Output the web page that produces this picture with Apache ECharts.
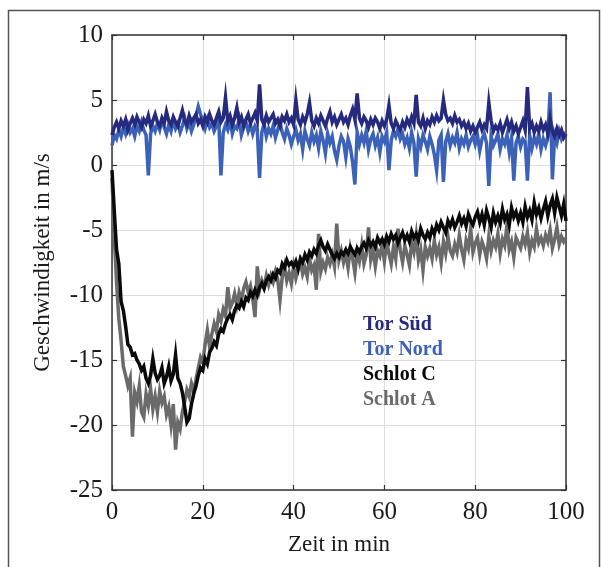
<!DOCTYPE html>
<html>
<head>
<meta charset="utf-8">
<script src="https://cdn.jsdelivr.net/npm/echarts@6/dist/echarts.min.js"></script>
<style>html,body{margin:0;padding:0;background:#fff;}#c{width:603px;height:567px;}</style>
</head>
<body>
<div id="c"></div>
<script>
// time axis: 0 .. 100 min, step 0.5
const timeStart = 0, timeStep = 0.5;
const xTicks = [0, 20, 40, 60, 80, 100];
const yTicks = [-25, -20, -15, -10, -5, 0, 5, 10];
const seriesNames = ['Tor Süd', 'Tor Nord', 'Schlot C', 'Schlot A'];

const torSued = [
 2.3, 2.9, 3.3, 2.8, 3.4, 3.0, 3.5, 2.7, 3.2, 3.6,
 3.1, 3.7, 3.3, 2.9, 3.5, 3.2, 3.8, 3.0, 3.4, 3.9,
 3.3, 3.0, 3.6, 3.2, 4.1, 3.4, 3.1, 3.7, 3.3, 3.0,
 3.6, 4.2, 3.4, 3.1, 3.8, 3.3, 3.6, 3.9, 3.2, 3.5,
 3.0, 3.7, 3.3, 3.9, 3.4, 3.1, 3.6, 4.1, 3.3, 3.6,
 5.2, 3.4, 3.8, 3.1, 3.6, 4.4, 3.3, 3.7, 3.0, 3.5,
 3.9, 3.2, 3.6, 4.0, 3.4, 6.2, 3.5, 3.1, 3.8, 3.3,
 3.6, 3.9, 3.2, 3.5, 3.0, 3.7, 3.4, 3.9, 3.3, 3.6,
 3.1, 5.0, 3.5, 3.1, 3.7, 3.3, 3.9, 4.8, 3.4, 3.0,
 3.6, 3.2, 3.8, 3.4, 3.0, 3.6, 4.1, 3.3, 3.7, 3.1,
 3.5, 3.9, 3.3, 3.6, 3.1, 3.8, 4.3, 3.5, 5.5, 3.6,
 3.2, 3.7, 3.4, 2.9, 3.5, 3.1, 3.6, 3.3, 2.8, 3.4,
 3.0, 3.5, 4.6, 3.2, 2.8, 3.4, 3.0, 2.7, 3.3, 2.9,
 3.5, 3.1, 3.7, 3.2, 5.4, 3.3, 3.0, 3.6, 2.8, 3.4,
 3.1, 3.7, 3.3, 3.8, 3.4, 3.6, 5.0, 3.9, 3.4, 3.6,
 3.2, 3.8, 3.3, 3.5, 3.0, 3.3, 2.8, 3.2, 2.6, 3.0,
 2.5, 2.9, 3.3, 2.7, 3.1, 2.8, 4.8, 3.4, 2.6, 3.0,
 2.7, 3.2, 2.5, 3.0, 3.5, 2.8, 3.3, 2.6, 3.0, 2.4,
 2.9, 3.4, 2.7, 6.0, 2.8, 3.2, 2.5, 3.0, 2.6, 3.3,
 2.7, 3.1, 2.4, 3.6, 2.6, 2.2, 2.8, 2.3, 2.7, 2.1,
 2.4
];
const torNord = [
 1.5, 2.3, 2.0, 2.7, 2.2, 2.9, 2.4, 3.1, 2.5, 2.8,
 2.2, 3.0, 2.6, 3.3, 2.7, 2.3, -0.8, 2.4, 3.0, 2.6,
 3.2, 2.7, 3.5, 2.9, 2.4, 3.1, 2.6, 3.4, 2.8, 3.2,
 2.5, 3.0, 3.6, 2.8, 3.3, 2.6, 3.1, 3.8, 4.5, 3.9,
 3.4, 2.8, 3.5, 2.9, 3.2, 2.6, 3.0, 3.6, -0.8, 2.5,
 3.1, 2.7, 3.4, 2.4, 3.0, 2.8, 3.5, 2.3, 2.9, 3.3,
 2.6, 3.1, 2.4, 3.0, 2.7, -1.0, 2.5, 3.2, 2.2, 2.8,
 2.4, 3.0, 2.1, 2.7, 3.3, 2.5, 2.0, 2.8, 2.3, 1.6,
 2.2, 2.7, 1.9, 2.4, 1.2, 2.6, 2.0, 1.5, 2.5, 1.8,
 2.3, 1.3, 2.6, 1.9, 0.9, 2.4, 1.7, 2.2, 1.1, 0.4,
 1.5, 2.2, 1.8, 0.6, 2.0, 1.4, 0.2, -1.5, 2.5, 1.6,
 2.3, 1.7, 2.6, 1.2, 2.0, 2.4, 1.5, 2.1, 1.0, 2.2,
 1.8, 2.5, -0.4, 1.9, 2.6, 2.2, 2.8, 2.0, 2.4, 1.6,
 2.1, 1.3, 2.5, 1.7, -0.9, 2.0, 1.4, 2.3, 1.8, 1.2,
 2.2, 1.6, 0.8, -0.4, 1.9, 2.3, -1.3, 1.8, 2.4, 1.5,
 2.1, 1.7, 2.5, 1.3, 2.0, 1.6, 2.3, 1.4, 1.9, 2.2,
 1.6, 2.3, 1.1, 2.0, 2.4, 1.7, -1.6, 2.2, 1.5, 1.9,
 2.4, 1.2, 2.0, 1.6, 2.3, 1.0, 2.1, -1.2, 1.7, 2.2,
 1.4, 2.0, 1.8, -1.2, 2.3, 1.3, 2.1, 1.6, 2.4, 1.2,
 2.0, 1.5, 2.2, 5.6, -1.1, 2.3, 1.7, 2.6, 2.0, 2.4,
 2.5
];
const schlotC = [
 -0.4, -3.5, -6.5, -7.6, -10.5, -11.2, -12.4, -13.8, -14.0, -14.6,
 -14.5, -15.0, -15.3, -15.8, -15.5, -16.4, -16.8, -16.2, -14.9, -16.0,
 -16.5, -16.2, -15.6, -16.8, -16.3, -15.5, -16.6, -16.1, -14.6, -16.4,
 -16.8, -17.5, -18.6, -19.8, -19.5, -18.4, -17.6, -17.0, -16.2, -15.6,
 -15.8, -14.9, -15.3, -14.4, -14.1, -13.6, -13.9, -13.0, -12.6, -12.8,
 -12.2, -11.8, -11.5, -11.9, -11.2, -10.8, -11.0, -10.5, -10.9, -10.2,
 -10.4, -9.8, -10.1, -9.6, -10.0, -9.4, -9.1, -9.5, -8.9, -8.6,
 -8.9, -8.4, -8.7, -8.1, -8.3, -7.6, -7.9, -7.3, -7.7, -7.5,
 -7.8, -7.4, -8.0, -7.2, -7.5, -6.9, -7.3, -6.7, -7.0, -6.5,
 -6.8, -6.2, -5.8, -6.3, -6.6, -6.1, -6.5, -6.9, -7.2, -6.8,
 -7.1, -6.7, -6.9, -6.5, -6.8, -6.3, -6.6, -6.9, -6.4, -6.7,
 -6.3, -6.0, -6.4, -5.8, -6.2, -5.9, -6.3, -5.6, -6.0, -5.7,
 -6.1, -5.5, -5.9, -5.3, -5.7, -5.4, -6.0, -5.6, -5.2, -5.8,
 -5.4, -5.9, -5.1, -5.6, -5.3, -5.8, -4.9, -5.4, -5.7, -5.2,
 -5.6, -4.9, -5.3, -4.6, -5.0, -4.4, -4.8, -5.2, -4.3, -4.7,
 -4.2, -4.8, -4.4, -3.9, -4.5, -4.1, -4.7, -3.8, -4.3, -4.6,
 -4.0, -3.6, -4.4, -3.8, -4.6, -3.5, -4.1, -4.8, -3.7, -4.4,
 -3.9, -4.5, -3.4, -4.2, -3.8, -4.6, -3.3, -4.0, -3.6, -4.3,
 -3.7, -4.4, -3.2, -4.0, -3.5, -4.2, -2.9, -3.8, -3.3, -4.1,
 -3.4, -2.8, -3.9, -3.1, -2.6, -3.7, -2.5, -3.2, -3.9, -3.0,
 -4.3
];
const schlotA = [
 -1.0, -5.5, -9.0, -11.8, -13.5, -15.5, -16.2, -17.0, -16.4, -20.9,
 -17.5, -18.2, -17.0, -19.0, -19.4, -17.6, -18.5, -17.2, -18.8, -17.8,
 -19.0, -17.4, -18.3, -17.8, -19.2, -18.6, -20.0, -18.4, -21.9, -19.8,
 -20.3, -19.0, -18.2, -17.3, -17.8, -16.8, -17.4, -16.5, -15.6, -14.8,
 -15.2, -13.8, -12.7, -14.0, -13.0, -12.2, -12.8, -11.5, -12.0, -11.1,
 -11.6, -9.4, -11.0, -10.6, -9.9, -10.8, -9.8, -10.4, -9.5, -9.0,
 -9.8, -9.3, -10.3, -11.7, -7.8, -9.6, -8.9, -9.4, -8.5, -9.2,
 -8.5, -9.0, -8.2, -8.8, -10.4, -8.6, -7.8, -8.9, -8.3, -9.1,
 -7.8, -8.7, -8.0, -7.4, -8.4, -7.9, -8.6, -7.2, -8.1, -7.7,
 -9.6, -5.3, -8.2, -7.5, -8.0, -7.1, -7.6, -6.9, -7.8, -4.5,
 -7.3, -6.6, -7.5, -6.8, -7.9, -6.4, -7.2, -8.3, -6.7, -7.4,
 -6.2, -7.6, -6.9, -4.8, -7.3, -6.5, -7.8, -6.6, -7.0, -6.1,
 -7.4, -5.9, -6.8, -7.6, -6.3, -7.2, -4.9, -6.6, -7.5, -6.2,
 -6.9, -7.7, -6.0, -6.7, -5.4, -7.3, -6.5, -8.1, -6.3, -7.0,
 -6.4, -7.2, -5.8, -6.9, -6.3, -7.5, -5.9, -6.8, -5.5, -6.6,
 -7.0, -6.1, -6.7, -5.4, -6.5, -7.3, -5.8, -6.4, -4.9, -6.7,
 -6.0, -5.6, -6.9, -5.9, -6.4, -7.2, -5.5, -6.6, -5.8, -6.3,
 -5.3, -6.8, -5.7, -6.2, -4.6, -6.5, -5.9, -7.1, -5.6, -6.0,
 -6.4, -5.5, -6.1, -5.2, -6.7, -5.8, -6.3, -4.9, -6.0, -5.6,
 -6.2, -5.4, -5.9, -5.0, -6.4, -5.7, -4.8, -6.1, -5.5, -5.9,
 -5.6
];

const colors = { 'Tor Süd': '#252a7e', 'Tor Nord': '#3b62b8', 'Schlot C': '#0a0a0a', 'Schlot A': '#6a6a6a' };

function pairs(arr) { return arr.map((v, i) => [timeStart + i * timeStep, v]); }

const serif = '"Liberation Serif", "Times New Roman", serif';
const chart = echarts.init(document.getElementById('c'), null, { renderer: 'canvas' });

const axisLineStyle = { color: '#333', width: 1.5 };
const tickStyle = { show: true, inside: true, length: 5, lineStyle: { color: '#333', width: 1.2 } };

chart.setOption({
  animation: false,
  backgroundColor: '#fff',
  graphic: [{
    type: 'rect', left: 6, top: 8, shape: { width: 591, height: 570 },
    style: { fill: 'none', stroke: '#555', lineWidth: 1.5 }, silent: true, z: -10
  }],
  grid: { left: 112, right: 37, top: 35, bottom: 77, containLabel: false },
  legend: {
    orient: 'vertical', left: 358, top: 310, itemGap: 5, itemWidth: 0, itemHeight: 0, icon: 'none',
    selectedMode: false,
    textStyle: { fontFamily: serif, fontWeight: 'bold', fontSize: 20, padding: [0, 0, 0, -5] },
    data: seriesNames.map(n => ({ name: n, icon: 'none', textStyle: { color: colors[n] } }))
  },
  xAxis: [{
    type: 'value', min: xTicks[0], max: xTicks[xTicks.length - 1], interval: 20,
    name: 'Zeit in min', nameLocation: 'middle', nameGap: 43,
    nameTextStyle: { fontFamily: serif, fontSize: 23, color: '#1a1a1a' },
    axisLine: { show: true, onZero: false, lineStyle: axisLineStyle },
    axisTick: tickStyle,
    axisLabel: { fontFamily: serif, fontSize: 25, color: '#1a1a1a', margin: 10 },
    splitLine: { show: true, lineStyle: { color: '#e2dcdc', width: 1 } }
  }, {
    type: 'value', position: 'top', min: 0, max: 100, interval: 20,
    axisLine: { show: true, onZero: false, lineStyle: axisLineStyle },
    axisTick: tickStyle, axisLabel: { show: false }, splitLine: { show: false }
  }],
  yAxis: [{
    type: 'value', min: yTicks[0], max: yTicks[yTicks.length - 1], interval: 5,
    name: 'Geschwindigkeit in m/s', nameLocation: 'middle', nameGap: 58, nameRotate: 90,
    nameTextStyle: { fontFamily: serif, fontSize: 23, color: '#1a1a1a' },
    axisLine: { show: true, onZero: false, lineStyle: axisLineStyle },
    axisTick: tickStyle,
    axisLabel: { fontFamily: serif, fontSize: 25, color: '#1a1a1a', margin: 9 },
    splitLine: { show: true, lineStyle: { color: '#e2dcdc', width: 1 } }
  }, {
    type: 'value', position: 'right', min: -25, max: 10, interval: 5,
    axisLine: { show: true, onZero: false, lineStyle: axisLineStyle },
    axisTick: tickStyle, axisLabel: { show: false }, splitLine: { show: false }
  }],
  series: [
    { name: 'Schlot A', data: pairs(schlotA) },
    { name: 'Schlot C', data: pairs(schlotC) },
    { name: 'Tor Nord', data: pairs(torNord) },
    { name: 'Tor Süd', data: pairs(torSued) }
  ].map(s => ({
    type: 'line', name: s.name, data: s.data, xAxisIndex: 0, yAxisIndex: 0,
    showSymbol: false, symbol: 'none', lineStyle: { width: 3.5, color: colors[s.name], join: 'miter' },
    itemStyle: { color: colors[s.name] }
  }))
});
</script>
</body>
</html>
